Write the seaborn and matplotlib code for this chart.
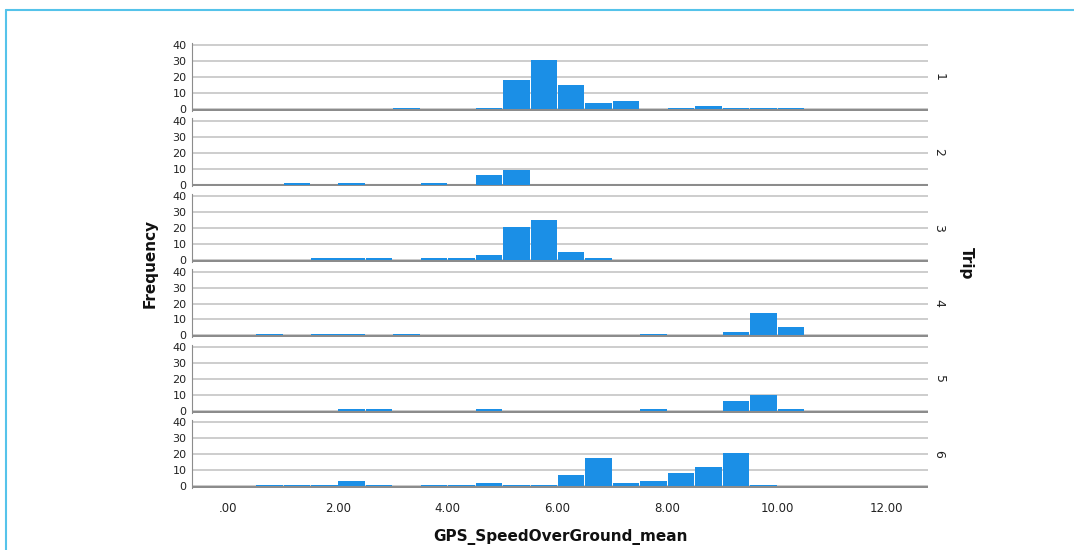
import matplotlib
matplotlib.use("Agg")
import matplotlib.pyplot as plt
from matplotlib.lines import Line2D
import seaborn as sns
import pandas as pd

# ---- data: bin centres (bin width 0.5) and frequencies per trip ----
trips = ["1", "2", "3", "4", "5", "6"]

trip1_speed = [3.25, 4.75, 5.25, 5.75, 6.25, 6.75, 7.25, 8.25, 8.75, 9.25, 9.75, 10.25]
trip1_count = [1, 1, 18, 31, 15, 4, 5, 1, 2, 1, 1, 1]

trip2_speed = [1.25, 2.25, 3.75, 4.75, 5.25]
trip2_count = [1, 1, 1, 6, 9]

trip3_speed = [1.75, 2.25, 2.75, 3.75, 4.25, 4.75, 5.25, 5.75, 6.25, 6.75]
trip3_count = [1, 1, 1, 1, 1, 3, 21, 25, 5, 1]

trip4_speed = [0.75, 1.75, 2.25, 3.25, 7.75, 9.25, 9.75, 10.25]
trip4_count = [1, 1, 1, 1, 1, 2, 14, 5]

trip5_speed = [2.25, 2.75, 4.75, 7.75, 9.25, 9.75, 10.25]
trip5_count = [1, 1, 1, 1, 6, 10, 1]

trip6_speed = [0.75, 1.25, 1.75, 2.25, 2.75, 3.75, 4.25, 4.75, 5.25, 5.75,
               6.25, 6.75, 7.25, 7.75, 8.25, 8.75, 9.25, 9.75]
trip6_count = [1, 1, 1, 3, 1, 1, 1, 2, 1, 1, 7, 18, 2, 3, 8, 12, 21, 1]

x_ticks = [0, 2, 4, 6, 8, 10, 12]
x_tick_labels = [".00", "2.00", "4.00", "6.00", "8.00", "10.00", "12.00"]
y_ticks = [0, 10, 20, 30, 40]

speeds = [trip1_speed, trip2_speed, trip3_speed, trip4_speed, trip5_speed, trip6_speed]
counts = [trip1_count, trip2_count, trip3_count, trip4_count, trip5_count, trip6_count]

frames = []
for t, s, c in zip(trips, speeds, counts):
    frames.append(pd.DataFrame({"Trip": t, "speed": s, "count": c}))
df = pd.concat(frames, ignore_index=True)

# ---- figure ----
sns.set_style("white")
plt.rcParams["font.family"] = ["DejaVu Sans"]

fig, axes = plt.subplots(6, 1, figsize=(10.74, 5.5), dpi=100, sharex=True)
fig.subplots_adjust(left=192 / 1074, right=928 / 1074,
                    top=1 - 43 / 550, bottom=1 - 488 / 550, hspace=0.11)

bar_color = "#1b8fe6"
for ax, t in zip(axes, trips):
    sub = df[df["Trip"] == t]
    ax.axhline(-0.55, color="#8c8c8c", linewidth=1.5, zorder=1)
    sns.histplot(data=sub, x="speed", weights="count", binwidth=0.5,
                 binrange=(0, 12), color=bar_color, alpha=1.0, shrink=0.965,
                 edgecolor="none", linewidth=0, ax=ax, zorder=2)
    for p in ax.patches:
        if p.get_height() == 0:
            p.set_visible(False)
    ax.set_xlim(-0.66, 12.75)
    ax.set_ylim(-1.1, 41.5)
    ax.set_yticks(y_ticks)
    ax.yaxis.grid(True, color="#cdcdcd", linewidth=1.4, zorder=0)
    ax.xaxis.grid(False)
    ax.set_axisbelow(True)
    for side in ["top", "right", "bottom"]:
        ax.spines[side].set_visible(False)
    ax.spines["left"].set_color("#8c8c8c")
    ax.spines["left"].set_linewidth(0.8)
    ax.tick_params(axis="y", length=0, pad=4, labelsize=8, labelcolor="#222222")
    ax.tick_params(axis="x", length=0)
    ax.set_ylabel("")
    ax.set_xlabel("")
    ax.text(1.015, 0.5, t, transform=ax.transAxes, rotation=-90,
            ha="center", va="center", fontsize=9, color="#222222")

axes[-1].set_xticks(x_ticks)
axes[-1].set_xticklabels(x_tick_labels)
axes[-1].tick_params(axis="x", pad=10, labelsize=8.5, labelcolor="#222222")
axes[-1].set_xlabel("GPS_SpeedOverGround_mean", fontsize=11, fontweight="bold",
                    labelpad=10, color="#111111")

fig.text(150 / 1074, 1 - 263 / 550, "Frequency", rotation=90, ha="center",
         va="center", fontsize=11, fontweight="bold", color="#111111")
fig.text(966 / 1074, 1 - 263 / 550, "Trip", rotation=-90, ha="center",
         va="center", fontsize=11, fontweight="bold", color="#111111")

# outer frame (top and left edges, light blue)
frame_color = "#55c3ea"
fig.add_artist(Line2D([6 / 1074, 1.0], [1 - 10 / 550, 1 - 10 / 550],
                      transform=fig.transFigure, color=frame_color, linewidth=1.5))
fig.add_artist(Line2D([6 / 1074, 6 / 1074], [0.0, 1 - 10 / 550],
                      transform=fig.transFigure, color=frame_color, linewidth=1.5))

fig.savefig("out.png", dpi=100)
